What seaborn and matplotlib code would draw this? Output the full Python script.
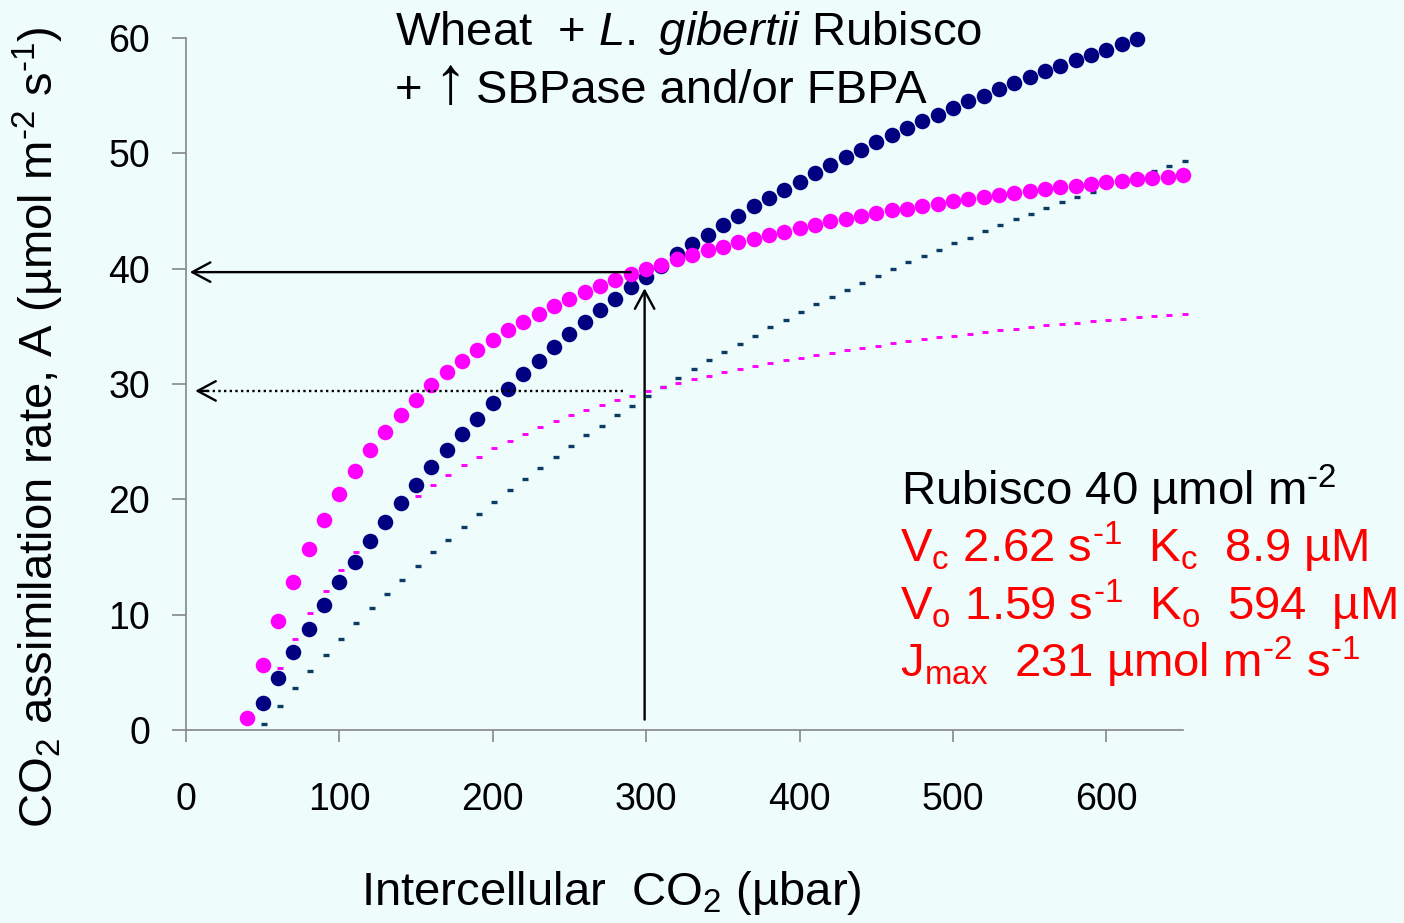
import numpy as np
import pandas as pd
import matplotlib
matplotlib.use("Agg")
import matplotlib.pyplot as plt
import seaborn as sns
from matplotlib import font_manager

# ---------------- data ----------------
x_pink = list(range(40, 651, 10))
y_pink = [1.0, 5.6, 9.45, 12.8, 15.7, 18.2, 20.5, 22.45, 24.25, 25.85,
          27.3, 28.65, 29.9, 31.0, 32.0, 32.95, 33.8, 34.65, 35.4, 36.1,
          36.75, 37.35, 37.95, 38.5, 39.0, 39.5, 40.0, 40.35, 40.85, 41.2,
          41.6, 41.9, 42.3, 42.6, 42.9, 43.2, 43.55, 43.8, 44.1, 44.3,
          44.6, 44.85, 45.05, 45.2, 45.4, 45.65, 45.85, 46.05, 46.2, 46.4,
          46.6, 46.7, 46.9, 47.05, 47.2, 47.35, 47.5, 47.6, 47.75, 47.85,
          47.95, 48.1]

x_navy = list(range(50, 621, 10))
y_navy = [2.3, 4.55, 6.75, 8.8, 10.85, 12.8, 14.6, 16.4, 18.05, 19.7,
          21.25, 22.8, 24.25, 25.7, 27.0, 28.35, 29.6, 30.85, 32.0, 33.2,
          34.3, 35.35, 36.4, 37.4, 38.45, 39.3, 40.25, 41.25, 42.1, 42.9,
          43.8, 44.6, 45.4, 46.1, 46.85, 47.55, 48.3, 48.95, 49.65, 50.3,
          51.0, 51.6, 52.2, 52.8, 53.35, 53.9, 54.5, 55.0, 55.55, 56.1,
          56.6, 57.1, 57.6, 58.05, 58.55, 59.0, 59.5, 59.9]

x_navy_dash = list(range(51, 652, 10))
y_navy_dash = [0.55, 2.1, 3.6, 5.1, 6.5, 7.9, 9.25, 10.55, 11.8, 13.0,
               14.25, 15.4, 16.5, 17.6, 18.7, 19.75, 20.8, 21.75, 22.7, 23.7,
               24.6, 25.55, 26.4, 27.28, 28.12, 28.96, 29.77, 30.55, 31.3, 32.08,
               32.77, 33.5, 34.2, 34.9, 35.58, 36.27, 36.9, 37.54, 38.15, 38.79,
               39.4, 39.97, 40.55, 41.1, 41.65, 42.2, 42.7, 43.27, 43.8, 44.28,
               44.77, 45.26, 45.75, 46.2, 46.67, 47.14, 47.6, 48.04, 48.47, 48.9,
               49.3]

x_pink_dash = list(range(61, 652, 10))
y_pink_dash = [5.38, 7.92, 10.14, 12.08, 13.84, 15.4, 16.85, 18.15, 19.3, 20.26,
               21.24, 22.14, 22.95, 23.7, 24.42, 25.06, 25.67, 26.24, 26.76, 27.28,
               27.75, 28.18, 28.6, 29.0, 29.4, 29.74, 30.06, 30.4, 30.7, 31.0,
               31.27, 31.56, 31.8, 32.05, 32.28, 32.5, 32.7, 32.95, 33.15, 33.32,
               33.53, 33.7, 33.87, 34.05, 34.2, 34.36, 34.5, 34.65, 34.8, 34.92,
               35.1, 35.2, 35.3, 35.44, 35.55, 35.66, 35.78, 35.9, 36.0, 36.1]

x_ticks = [0, 100, 200, 300, 400, 500, 600]
y_ticks = [0, 10, 20, 30, 40, 50, 60]

# annotation arrows (data coords)
arrow_solid_h = ((290, 39.7), (2.5, 39.7))
arrow_dotted_h = ((285, 29.4), (6, 29.4))
arrow_vertical = ((299, 0.9), (299, 38.3))

BG = "#EEFCFB"
PINK = "#FF00FF"
NAVY = "#000080"
NAVY_DASH = "#0B3B66"
RED = "#FF0000"

# ---------------- style ----------------
sns.set_theme(style="ticks")
avail = {f.name for f in font_manager.fontManager.ttflist}
main_font = "Liberation Sans" if "Liberation Sans" in avail else "DejaVu Sans"
plt.rcParams["font.family"] = [main_font, "DejaVu Sans"]
plt.rcParams["mathtext.fontset"] = "custom"
plt.rcParams["mathtext.rm"] = main_font
plt.rcParams["mathtext.it"] = main_font + ":italic"
plt.rcParams["mathtext.bf"] = main_font + ":bold"

W, H = 1404, 923
fig = plt.figure(figsize=(W / 100, H / 100), dpi=100, facecolor=BG)
ax = fig.add_axes([186 / W, 1 - 730 / H, (1183 - 186) / W, (730 - 38) / H])
ax.set_facecolor(BG)

df_nd = pd.DataFrame({"x": x_navy_dash, "y": y_navy_dash})
df_pd = pd.DataFrame({"x": x_pink_dash, "y": y_pink_dash})
df_n = pd.DataFrame({"x": x_navy, "y": y_navy})
df_p = pd.DataFrame({"x": x_pink, "y": y_pink})

sns.scatterplot(data=df_nd, x="x", y="y", ax=ax, marker="_", s=22,
                linewidth=2.4, color=NAVY_DASH, zorder=2, clip_on=False)
sns.scatterplot(data=df_pd, x="x", y="y", ax=ax, marker="_", s=18,
                linewidth=2.1, color=PINK, zorder=2, clip_on=False)
sns.scatterplot(data=df_n, x="x", y="y", ax=ax, s=125, linewidth=0,
                color=NAVY, zorder=3, clip_on=False)
sns.scatterplot(data=df_p, x="x", y="y", ax=ax, s=125, linewidth=0,
                color=PINK, zorder=4, clip_on=False)

ax.set_xlim(0, 650)
ax.set_ylim(0, 60)
ax.set_xticks(x_ticks)
ax.set_yticks(y_ticks)
ax.set_xticklabels([str(t) for t in x_ticks])
ax.set_yticklabels([str(t) for t in y_ticks])
for s in ["top", "right"]:
    ax.spines[s].set_visible(False)
for s in ["left", "bottom"]:
    ax.spines[s].set_color("#878787")
    ax.spines[s].set_linewidth(1.2)
ax.tick_params(axis="x", length=8.6, width=1.2, color="#878787",
               labelsize=27, pad=29, labelcolor="black")
ax.tick_params(axis="y", length=10, width=1.2, color="#878787",
               labelsize=27, pad=16, labelcolor="black")

ax.set_xlabel("Intercellular  CO$_2$ (µbar)", fontsize=34, color="black")
ax.xaxis.set_label_coords((611 - 186) / 997, (730 - 893) / 692)
ax.xaxis.label.set_va("center")
ax.set_ylabel(r"CO$_2$ assimilation rate, A (µmol m$^{\text{-2}}$ s$^{\text{-1}}$)",
              fontsize=34, color="black")
ax.yaxis.set_label_coords((38 - 186) / 997, (730 - 427) / 692)
ax.yaxis.label.set_va("center")

# arrows
head = "->,head_length=0.65,head_width=0.35"
ax.annotate("", xy=arrow_solid_h[1], xytext=arrow_solid_h[0],
            arrowprops=dict(arrowstyle=head, color="black", lw=1.7,
                            mutation_scale=20, shrinkA=0, shrinkB=0), zorder=5)
ax.plot([arrow_dotted_h[0][0], arrow_dotted_h[1][0] + 6],
        [arrow_dotted_h[0][1], arrow_dotted_h[1][1]],
        color="black", lw=1.7, ls=(0, (1, 1.4)), zorder=5)
ax.annotate("", xy=arrow_dotted_h[1], xytext=(arrow_dotted_h[1][0] + 8, arrow_dotted_h[1][1]),
            arrowprops=dict(arrowstyle=head, color="black", lw=1.7,
                            mutation_scale=20, shrinkA=0, shrinkB=0), zorder=5)
ax.annotate("", xy=arrow_vertical[1], xytext=arrow_vertical[0],
            arrowprops=dict(arrowstyle=head, color="black", lw=1.7,
                            mutation_scale=20, shrinkA=0, shrinkB=0), zorder=5)

# texts
def ftext(px, py, s, color="black", size=34, ha="left"):
    fig.text(px / W, 1 - py / H, s, color=color, fontsize=size,
             ha=ha, va="baseline")

ftext(395, 45, r"Wheat  + $\mathit{L.}$ $\mathit{gibertii}$ Rubisco")
ftext(395, 103, "+")
ftext(450, 103, "↑", size=48, ha="center")
ftext(476, 103, "SBPase and/or FBPA")
ftext(901, 505, r"Rubisco 40 µmol m$^{\text{-2}}$", size=34)
ftext(900, 562, r"V$_\mathregular{c}$ 2.62 s$^{\text{-1}}$  K$_\mathregular{c}$  8.9 µM", RED, 34)
ftext(900, 620, r"V$_\mathregular{o}$ 1.59 s$^{\text{-1}}$  K$_\mathregular{o}$  594  µM", RED, 34)
ftext(900, 677, r"J$_\mathregular{max}$  231 µmol m$^{\text{-2}}$ s$^{\text{-1}}$", RED, 34)

fig.savefig("out.png", dpi=100, facecolor=BG)
